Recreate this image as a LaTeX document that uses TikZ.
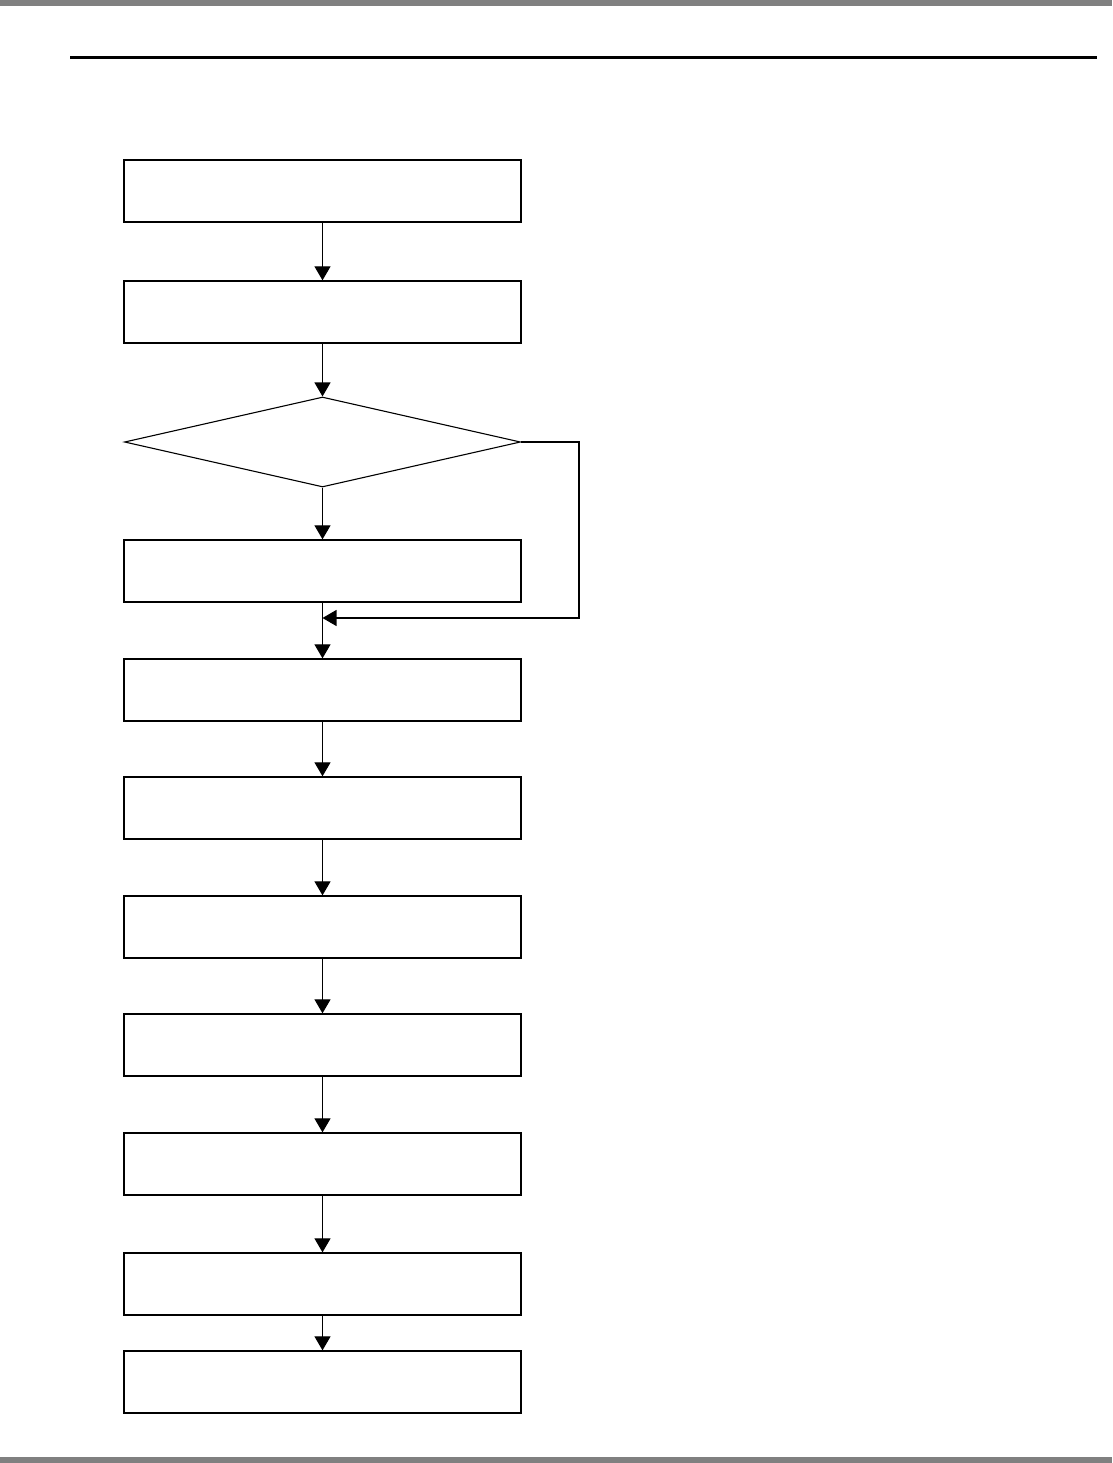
\documentclass[tikz,border=0pt]{standalone}
\usepackage{tikz}
\usetikzlibrary{arrows.meta,positioning,calc,shapes.geometric}
\tikzset{
  blk/.style ={draw,line width=1.3pt,minimum width=397pt,minimum height=62pt,inner sep=0pt},
  edgeshade/.style={line width=1pt},
  dec/.style ={diamond,draw,line width=1.1pt,minimum width=396pt,minimum height=90pt,inner sep=0pt},
  flow/.style={line width=1.1pt,-{Triangle[width=16pt,length=14pt]}},
  plain/.style={line width=1.1pt},
  bar/.style ={fill=black!50,draw=none},
}

\begin{document}
\begin{tikzpicture}[x=1pt,y=-1pt]
  \useasboundingbox (0,0) rectangle (1112,1463);
  % page rules
  \fill[bar] (0,0) rectangle (1112,6);
  \fill[bar] (0,1457) rectangle (1112,1463);
  \draw[line width=3pt] (70,57.5) -- (1097,57.5);
  % flow blocks
  \node[blk](s1) at (322.5,191){};
  \node[blk](s2) at (322.5,312){};
  \node[dec](chk) at (322.5,442){};
  \node[blk](s3) at (322.5,571){};
  \node[blk](s4) at (322.5,690){};
  \node[blk](s5) at (322.5,808){};
  \node[blk](s6) at (322.5,927){};
  \node[blk](s7) at (322.5,1045){};
  \node[blk](s8) at (322.5,1164){};
  \node[blk](s9) at (322.5,1284){};
  \node[blk](s10) at (322.5,1382){};
  \foreach \n in {s1,s2,s3,s4,s5,s6,s7,s8,s9,s10}{
    \draw[edgeshade]([xshift=0.6pt]\n.north west)--([xshift=0.6pt,yshift=0.6pt]\n.south west)--([yshift=0.6pt]\n.south east);}
  % connectors
  \draw[flow](s1)--(s2);
  \draw[flow](s2)--(chk);
  \draw[flow](chk)--(s3);
  \coordinate (loopc) at (579,618);
  \coordinate (merge) at (322.5,618);
  \draw[flow](chk.east)-|(loopc)--(merge);
  \foreach \a/\b in {s3/s4,s4/s5,s5/s6,s6/s7,s7/s8,s8/s9,s9/s10}{\draw[flow](\a)--(\b);}
\end{tikzpicture}
\end{document}
